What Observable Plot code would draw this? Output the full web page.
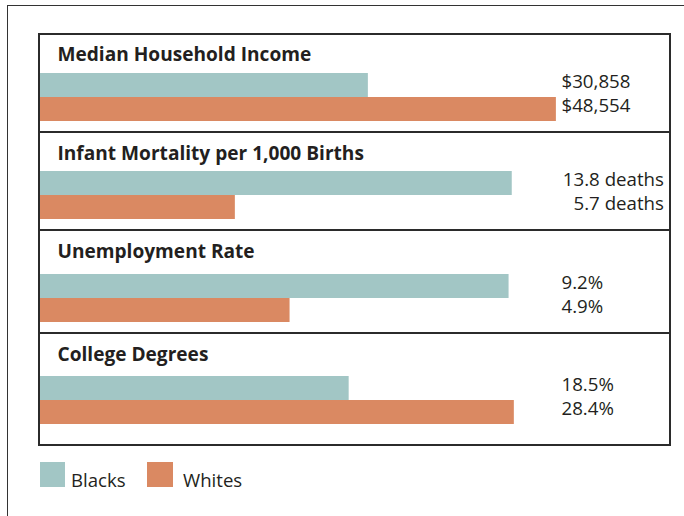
<!DOCTYPE html>
<html>
<head>
<meta charset="utf-8">
<script src="https://cdn.jsdelivr.net/npm/d3@7"></script>
<script src="https://cdn.jsdelivr.net/npm/@observablehq/plot@0.6"></script>
<style>
  html, body { margin: 0; padding: 0; background: #fff; width: 684px; height: 516px; overflow: hidden; }
  body { position: relative; font-family: "Open Sans", sans-serif; color: #231f20; }
  #outer { position: absolute; left: 7px; top: 5px; width: 700px; height: 540px;
           border-top: 1.5px solid #333; border-left: 1.5px solid #333; }
  #box { position: absolute; left: 38px; top: 33px; width: 629px;
         border: 2px solid #2b2b2b; background: #fff; }
  .panel { display: block; }
  .panel.sep { border-bottom: 2px solid #2b2b2b; }
  .panel svg { display: block; }
  #legend { position: absolute; left: 40px; top: 462px; height: 25px; }
  .sw { position: absolute; top: 0; width: 25px; height: 25px; }
  .lg { position: absolute; top: 0; font-size: 18.6px; line-height: 25px; white-space: nowrap; padding-top: 5px; }
</style>
</head>
<body>
<div id="outer"></div>
<div id="box"></div>
<div id="legend"></div>
<script>
// ---- data ----
const categories = ["Median Household Income", "Infant Mortality per 1,000 Births", "Unemployment Rate", "College Degrees"];
const groups = ["Blacks", "Whites"];
const blacks = [30858, 13.8, 9.2, 18.5];
const whites = [48554, 5.7, 4.9, 28.4];
const blackLabels = ["$30,858", "13.8 deaths", "9.2%", "18.5%"];
const whiteLabels = ["$48,554", "5.7 deaths", "4.9%", "28.4%"];

// ---- layout / style ----
const colors = ["#a2c6c5", "#da8962"];
const scaleMax = [59200, 18.4, 12.35, 37.7];
const panelHeights = [96, 96, 101, 110];
const barTops = [37, 37, 42, 41];
const titleBaselines = [25, 26, 26, 26];
const labelRight = [false, true, false, false];
const W = 629;

const box = document.getElementById("box");
categories.forEach((cat, i) => {
  const rows = groups.map((g, j) => ({
    group: g,
    value: j === 0 ? blacks[i] : whites[i],
    label: j === 0 ? blackLabels[i] : whiteLabels[i]
  }));
  const chart = Plot.plot({
    width: W,
    height: panelHeights[i],
    margin: 0,
    style: { fontFamily: "Open Sans, sans-serif", fontSize: "18.7px", color: "#231f20", background: "transparent", overflow: "visible" },
    x: { domain: [0, scaleMax[i]], axis: null },
    y: { domain: groups, range: [barTops[i], barTops[i] + 49], padding: 0, axis: null },
    color: { domain: groups, range: colors },
    marks: [
      Plot.barX(rows, { x: "value", y: "group", fill: "group" }),
      Plot.text([cat], {
        text: d => d, frameAnchor: "top-left", lineAnchor: "bottom",
        dx: 17, dy: titleBaselines[i], fontWeight: "bold", fontSize: 19.1, fill: "#231f20"
      }),
      Plot.text(rows, labelRight[i]
        ? { y: "group", text: "label", frameAnchor: "right", textAnchor: "end", lineAnchor: "bottom", dx: -5.5, dy: 2.5, fill: "#231f20" }
        : { y: "group", text: "label", frameAnchor: "left", textAnchor: "start", lineAnchor: "bottom", dx: 521, dy: 2.5, fill: "#231f20" })
    ]
  });
  const wrap = document.createElement("div");
  wrap.className = "panel" + (i < categories.length - 1 ? " sep" : "");
  wrap.appendChild(chart);
  box.appendChild(wrap);
});

// ---- legend ----
const legend = document.getElementById("legend");
const swX = [0, 107];
const txX = [31, 143];
groups.forEach((g, j) => {
  const s = document.createElement("div");
  s.className = "sw";
  s.style.left = swX[j] + "px";
  s.style.width = (j === 0 ? 25 : 26) + "px";
  s.style.background = colors[j];
  legend.appendChild(s);
  const t = document.createElement("div");
  t.className = "lg";
  t.style.left = txX[j] + "px";
  t.textContent = g;
  legend.appendChild(t);
});
</script>
</body>
</html>
